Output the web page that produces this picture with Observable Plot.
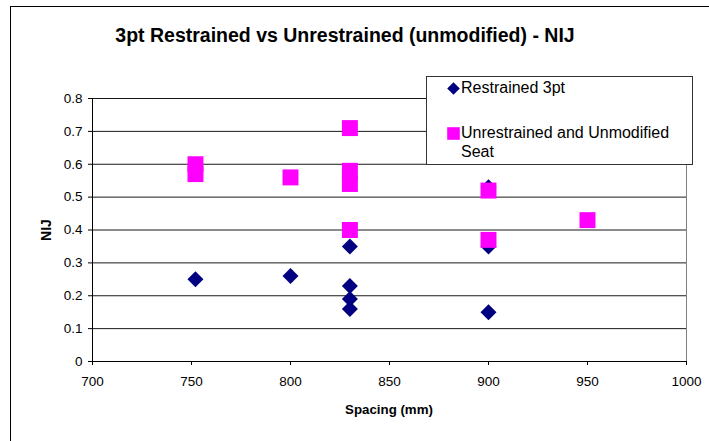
<!DOCTYPE html>
<html>
<head>
<meta charset="utf-8">
<script src="https://cdn.jsdelivr.net/npm/d3@7"></script>
<script src="https://cdn.jsdelivr.net/npm/@observablehq/plot@0.6"></script>
<style>
  body { margin: 0; background: #fff; font-family: Arial, "Liberation Sans", sans-serif; }
  #wrap { position: relative; width: 709px; height: 441px; overflow: hidden; background: #fff; }
  #frame { position: absolute; left: 10px; top: 6px; width: 720px; height: 460px; border: 1px solid #000; box-sizing: border-box; }
  #chart { position: absolute; left: 0; top: 0; }
  .ov { position: absolute; color: #000; white-space: nowrap; line-height: 1; }
  #title { left: 0; width: 690px; top: 26px; text-align: center; font-weight: bold; font-size: 19.5px; }
  #xlabel { left: 92px; width: 594px; top: 403px; text-align: center; font-weight: bold; font-size: 13.3px; }
  #ylabel { left: 46px; top: 230px; transform: translate(-50%, -50%) rotate(-90deg); font-weight: bold; font-size: 14px; }
  #legend { position: absolute; left: 426px; top: 76px; width: 267px; height: 89px; border: 1px solid #333; box-sizing: border-box; background: #fff; font-size: 16px; }
  .item { position: absolute; left: 0; display: flex; align-items: flex-start; }
  .item svg { margin-left: 20px; margin-right: 1px; margin-top: 3px; }
</style>
</head>
<body>
<div id="wrap">
  <div id="frame"></div>
  <div id="chart"></div>
  <div id="title" class="ov"></div>
  <div id="xlabel" class="ov"></div>
  <div id="ylabel" class="ov"></div>
  <div id="legend"></div>
</div>
<script>
const titleText = "3pt Restrained vs Unrestrained (unmodified) - NIJ";
const xLabel = "Spacing (mm)";
const yLabel = "NIJ";
const seriesNames = ["Restrained 3pt", "Unrestrained and Unmodified Seat"];
const seriesColors = ["#000080", "#FF00FF"];

const restrainedX = [752, 800, 830, 830, 830, 830, 900, 900, 900];
const restrainedY = [0.25, 0.26, 0.35, 0.23, 0.19, 0.16, 0.53, 0.35, 0.15];
const unrestrainedX = [752, 752, 800, 830, 830, 830, 830, 900, 900, 950];
const unrestrainedY = [0.60, 0.57, 0.56, 0.71, 0.58, 0.54, 0.40, 0.52, 0.37, 0.43];

const xTicks = [700, 750, 800, 850, 900, 950, 1000];
const yTicks = [0, 0.1, 0.2, 0.3, 0.4, 0.5, 0.6, 0.7, 0.8];
const yTickLabels = ["0", "0.1", "0.2", "0.3", "0.4", "0.5", "0.6", "0.7", "0.8"];

const restrained = restrainedX.map((x, i) => ({x, y: restrainedY[i]}));
const unrestrained = unrestrainedX.map((x, i) => ({x, y: unrestrainedY[i]}));

const chart = Plot.plot({
  width: 709,
  height: 441,
  marginLeft: 92,
  marginRight: 23,
  marginTop: 98,
  marginBottom: 80,
  style: { fontFamily: 'Arial, "Liberation Sans", sans-serif', fontSize: "13.5px", color: "#000", background: "transparent", overflow: "visible" },
  x: { domain: [700, 1000], ticks: xTicks, label: null },
  y: { domain: [0, 0.8], ticks: yTicks, label: null },
  marks: [
    Plot.gridY(yTicks, { stroke: "#000", strokeOpacity: 0.9 }),
    Plot.ruleX([1000], { stroke: "#808080" }),
    Plot.axisX(xTicks, { tickSize: 4, tickPadding: 11, tickFormat: d => String(d), stroke: "#000", fontSize: 13.5 }),
    Plot.axisY(yTicks, { tickSize: 4, tickPadding: 6, tickFormat: (d, i) => yTickLabels[i], stroke: "#000", fontSize: 13.5 }),
    Plot.ruleX([700], { stroke: "#000" }),
    Plot.ruleY([0], { stroke: "#000" }),
    Plot.dot(restrained, { x: "x", y: "y", symbol: "diamond2", r: 7.2, fill: seriesColors[0], stroke: "none" }),
    Plot.dot(unrestrained, { x: "x", y: "y", symbol: "square", r: 9, fill: seriesColors[1], stroke: "none" })
  ]
});
document.getElementById("chart").appendChild(chart);
document.getElementById("title").textContent = titleText;
document.getElementById("xlabel").textContent = xLabel;
document.getElementById("ylabel").textContent = yLabel;

const legend = document.getElementById("legend");
const sym = [
  '<svg width="13" height="13" viewBox="-6.5 -6.5 13 13"><path d="M0,-6.3L6.3,0L0,6.3L-6.3,0Z" fill="' + seriesColors[0] + '"/></svg>',
  '<svg width="13" height="13" viewBox="-6.5 -6.5 13 13"><rect x="-6.3" y="-6.3" width="12.6" height="12.6" fill="' + seriesColors[1] + '"/></svg>'
];
const tops = [2, 47];
seriesNames.forEach((name, i) => {
  const d = document.createElement("div");
  d.className = "item";
  d.style.top = tops[i] + "px";
  const label = i === 1 ? "Unrestrained and Unmodified<br>Seat" : name;
  d.innerHTML = sym[i] + '<span style="line-height:19px;margin-top:-1px">' + label + '</span>';
  legend.appendChild(d);
});
</script>
</body>
</html>
